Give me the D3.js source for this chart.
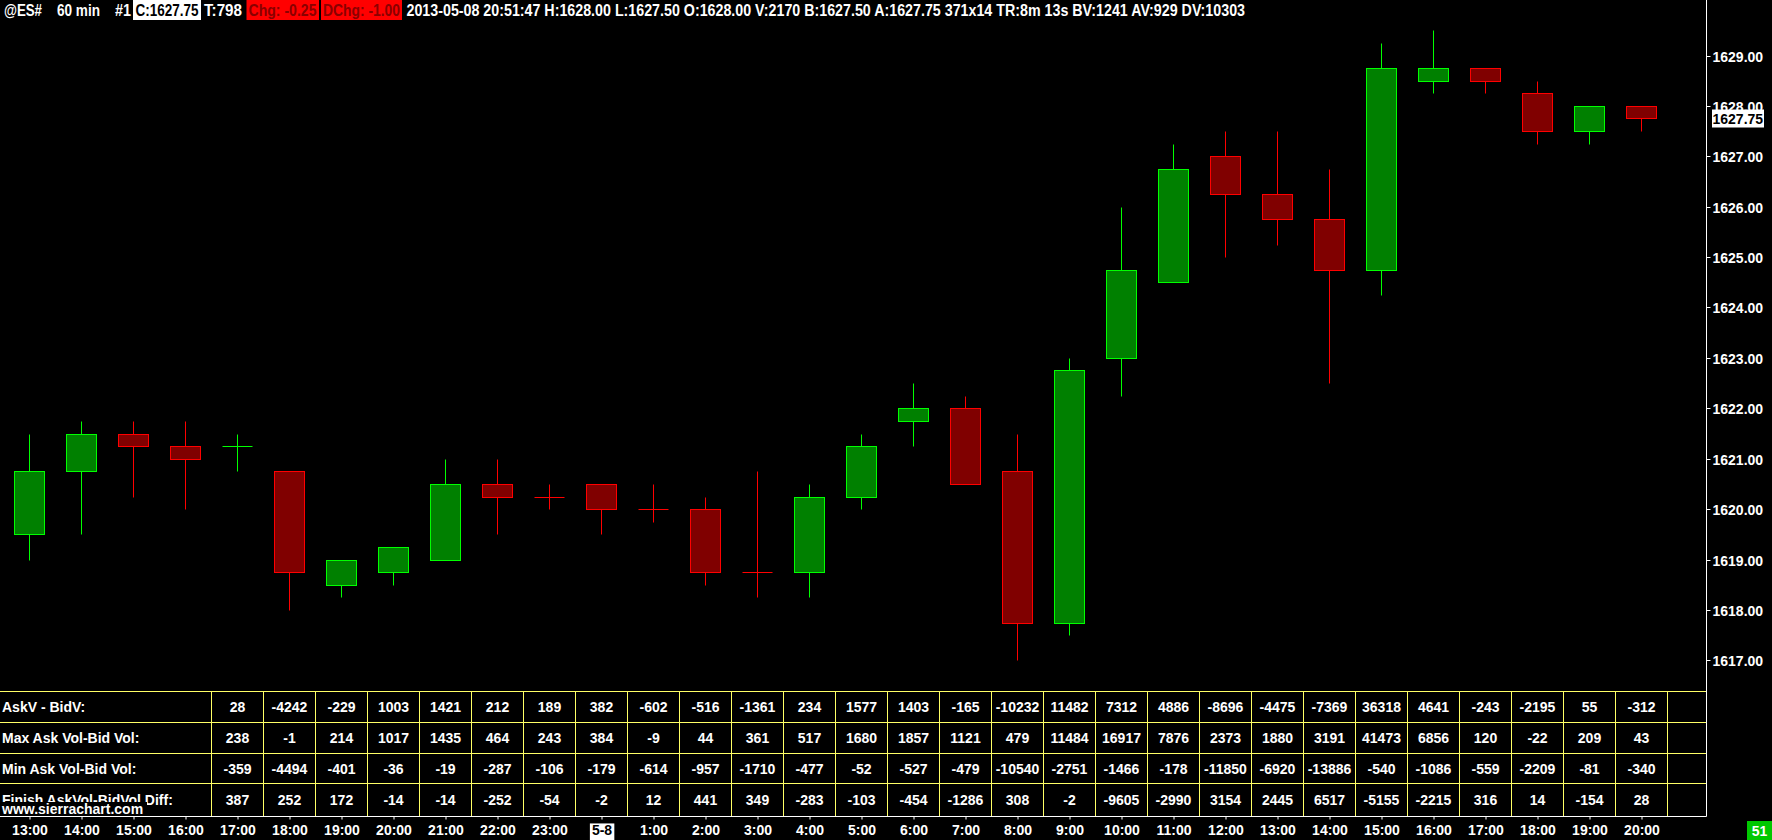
<!DOCTYPE html>
<html><head><meta charset="utf-8">
<script src="https://cdn.jsdelivr.net/npm/d3@7"></script>
<style>
html,body{margin:0;padding:0;background:#000;overflow:hidden}
svg{display:block}
text{font-family:"Liberation Sans",Arial,sans-serif;font-weight:bold}
</style></head><body>
<svg id="c" width="1772" height="840"></svg>
<script>
// ---------- data ----------
const times = ["13:00","14:00","15:00","16:00","17:00","18:00","19:00","20:00","21:00","22:00","23:00","5-8",
  "1:00","2:00","3:00","4:00","5:00","6:00","7:00","8:00","9:00","10:00","11:00","12:00","13:00","14:00",
  "15:00","16:00","17:00","18:00","19:00","20:00"];
const opens  = [1619.5,1620.75,1621.5,1621.25,1621.25,1620.75,1618.5,1618.75,1619,1620.5,1620.25,1620.5,
  1620,1620,1618.75,1618.75,1620.25,1621.75,1622,1620.75,1617.75,1623,1624.5,1627,1626.25,1625.75,
  1624.75,1628.5,1628.75,1628.25,1627.5,1628];
const highs  = [1621.5,1621.75,1621.75,1621.75,1621.5,1620.75,1619,1619.25,1621,1621,1620.5,1620.5,
  1620.5,1620.25,1620.75,1620.5,1621.5,1622.5,1622.25,1621.5,1623,1626,1627.25,1627.5,1627.5,1626.75,
  1629.25,1629.5,1628.75,1628.5,1628,1628];
const lows   = [1619,1619.5,1620.25,1620,1620.75,1618,1618.25,1618.5,1619,1619.5,1620,1619.5,
  1619.75,1618.5,1618.25,1618.25,1620,1621.25,1620.5,1617,1617.5,1622.25,1624.5,1625,1625.25,1622.5,
  1624.25,1628.25,1628.25,1627.25,1627.25,1627.5];
const closes = [1620.75,1621.5,1621.25,1621,1621.25,1618.75,1619,1619.25,1620.5,1620.25,1620.25,1620,
  1620,1618.75,1618.75,1620.25,1621.25,1622,1620.5,1617.75,1622.75,1624.75,1626.75,1626.25,1625.75,1624.75,
  1628.75,1628.75,1628.5,1627.5,1628,1627.75];
const priceTicks = [1617,1618,1619,1620,1621,1622,1623,1624,1625,1626,1627,1628,1629];
const lastPrice = 1627.75;
const tableLabels = ["AskV - BidV:","Max Ask Vol-Bid Vol:","Min Ask Vol-Bid Vol:","Finish AskVol-BidVol Diff:"];
const tableFirstBar = 4;
const askMinusBid = [28,-4242,-229,1003,1421,212,189,382,-602,-516,-1361,234,1577,1403,-165,-10232,11482,7312,4886,-8696,-4475,-7369,36318,4641,-243,-2195,55,-312];
const maxAskBid   = [238,-1,214,1017,1435,464,243,384,-9,44,361,517,1680,1857,1121,479,11484,16917,7876,2373,1880,3191,41473,6856,120,-22,209,43];
const minAskBid   = [-359,-4494,-401,-36,-19,-287,-106,-179,-614,-957,-1710,-477,-52,-527,-479,-10540,-2751,-1466,-178,-11850,-6920,-13886,-540,-1086,-559,-2209,-81,-340];
const finishDiff  = [387,252,172,-14,-14,-252,-54,-2,12,441,349,-283,-103,-454,-1286,308,-2,-9605,-2990,3154,2445,6517,-5155,-2215,316,14,-154,28];
const headerParts = ["@ES#","60 min","#1","C:1627.75","T:798","Chg: -0.25","DChg: -1.00",
  "2013-05-08 20:51:47 H:1628.00 L:1627.50 O:1628.00 V:2170 B:1627.50 A:1627.75 371x14 TR:8m 13s BV:1241 AV:929 DV:10303"];
const barCountLabel = "51";

// ---------- layout ----------
const svg = d3.select("#c");
const W = 1772, H = 840;
const plotRight = 1706.5, axisBottom = 816.5;
const UP_FILL = "#008000", UP_LINE = "#00ff00", DN_FILL = "#800000", DN_LINE = "#ff0000";
const GRID = "#ffff66";

svg.append("rect").attr("width", W).attr("height", H).attr("fill", "#000");

const x = d3.scaleLinear().domain([0, times.length - 1]).range([29.5, 29.5 + 52 * (times.length - 1)]);
const y = d3.scaleLinear().domain([1617, 1629]).range([660.3, 55.5]);
const py = v => Math.round(y(v)) + 0.5;

// ---------- candles ----------
const bars = d3.range(times.length).map(i => {
  const o = opens[i], c = closes[i];
  let up = c > o ? true : c < o ? false : (i > 0 && c > closes[i - 1]);
  return {i, o, h: highs[i], l: lows[i], c, up};
});
const g = svg.append("g");
const cg = g.selectAll("g.candle").data(bars).join("g").attr("class", "candle");
cg.append("line")
  .attr("x1", d => x(d.i)).attr("x2", d => x(d.i))
  .attr("y1", d => py(d.h)).attr("y2", d => py(d.l))
  .attr("stroke", d => d.up ? UP_LINE : DN_LINE).attr("stroke-width", 1);
cg.filter(d => d.o !== d.c).append("rect")
  .attr("x", d => x(d.i) - 15).attr("width", 30)
  .attr("y", d => py(Math.max(d.o, d.c)))
  .attr("height", d => py(Math.min(d.o, d.c)) - py(Math.max(d.o, d.c)))
  .attr("fill", d => d.up ? UP_FILL : DN_FILL)
  .attr("stroke", d => d.up ? UP_LINE : DN_LINE).attr("stroke-width", 1);
cg.filter(d => d.o === d.c).append("line")
  .attr("x1", d => x(d.i) - 15).attr("x2", d => x(d.i) + 15)
  .attr("y1", d => py(d.c)).attr("y2", d => py(d.c))
  .attr("stroke", d => d.up ? UP_LINE : DN_LINE).attr("stroke-width", 1);

// ---------- table ----------
const rows = [askMinusBid, maxAskBid, minAskBid, finishDiff];
const rowScale = d3.scaleBand().domain(d3.range(rows.length)).range([691.5, 814.5]);
const rowLine = k => Math.round(rowScale(k) - 0.5) + 0.5;
const tg = svg.append("g");
rows.forEach((r, k) => {
  tg.append("line").attr("x1", 0).attr("x2", plotRight).attr("y1", rowLine(k)).attr("y2", rowLine(k))
    .attr("stroke", GRID);
});
const colEdges = d3.range(tableFirstBar, times.length).map(i => x(i) - 26).concat([x(times.length - 1) + 26]);
tg.selectAll("line.v").data(colEdges).join("line").attr("class", "v")
  .attr("x1", d => d).attr("x2", d => d).attr("y1", rowLine(0)).attr("y2", axisBottom)
  .attr("stroke", GRID);
rows.forEach((r, k) => {
  const top = rowLine(k), bot = k < rows.length - 1 ? rowLine(k + 1) : axisBottom;
  const cy = (top + bot) / 2;
  tg.append("text").attr("x", 2).attr("y", cy).attr("dy", "0.36em")
    .attr("fill", "#fff").attr("font-size", 14).text(tableLabels[k]);
  tg.selectAll("text.v" + k).data(r).join("text").attr("class", "v" + k)
    .attr("x", (d, j) => x(tableFirstBar + j)).attr("y", cy).attr("dy", "0.36em")
    .attr("text-anchor", "middle").attr("fill", "#fff").attr("font-size", 14).text(d => d);
});
// watermark
svg.append("rect").attr("x", 0).attr("y", 802).attr("width", 147).attr("height", 14).attr("fill", "#000");
svg.append("text").attr("x", 2).attr("y", 814).attr("fill", "#fff").attr("font-size", 14).text("www.sierrachart.com");

// ---------- borders ----------
svg.append("line").attr("x1", plotRight).attr("x2", plotRight).attr("y1", 0).attr("y2", axisBottom).attr("stroke", "#fff");
svg.append("line").attr("x1", 0).attr("x2", plotRight).attr("y1", axisBottom).attr("y2", axisBottom).attr("stroke", "#fff");

// ---------- y axis ----------
const ya = svg.append("g").attr("transform", `translate(${plotRight},0)`)
  .call(d3.axisRight(y).tickValues(priceTicks).tickFormat(d3.format(".2f")).tickSize(4).tickPadding(2));
ya.select(".domain").remove();
ya.selectAll(".tick line").attr("stroke", "#fff");
ya.selectAll(".tick text").attr("fill", "#fff").attr("font-size", 14)
  .attr("font-family", null).attr("dy", "0.36em");
ya.selectAll(".tick").attr("transform", d => `translate(0,${py(d)})`);
// last price box
const lp = svg.append("g").attr("transform", `translate(1712,${y(lastPrice)})`);
lp.append("rect").attr("x", 0).attr("y", -9).attr("width", 52).attr("height", 18).attr("fill", "#fff");
lp.append("text").attr("x", 0.5).attr("y", 0).attr("dy", "0.36em").attr("fill", "#000").attr("font-size", 14)
  .text(d3.format(".2f")(lastPrice));

// ---------- x axis ----------
const xa = svg.append("g").attr("transform", `translate(0,${axisBottom})`)
  .call(d3.axisBottom(x).tickValues(d3.range(times.length)).tickFormat(i => times[i]).tickSize(3).tickPadding(6));
xa.select(".domain").remove();
xa.selectAll(".tick line").attr("stroke", "#fff");
xa.selectAll(".tick text").attr("fill", "#fff").attr("font-size", 14).attr("font-family", null);
xa.selectAll(".tick").filter(i => times[i].includes("-")).each(function () {
  const t = d3.select(this).select("text").attr("fill", "#000");
  const bb = t.node().getBBox();
  d3.select(this).insert("rect", "text").attr("x", bb.x - 2).attr("y", bb.y + 1)
    .attr("width", bb.width + 4).attr("height", 840 - axisBottom - bb.y - 1).attr("fill", "#fff");
});

// ---------- bar count ----------
svg.append("rect").attr("x", 1747).attr("y", 821).attr("width", 25).attr("height", 19).attr("fill", "#00c800");
svg.append("text").attr("x", 1759.5).attr("y", 836).attr("text-anchor", "middle").attr("fill", "#fff")
  .attr("font-size", 14).text(barCountLabel);

// ---------- header ----------
const hx = [[4,38],[57,43],[115,16],[135.5,63],[204,38],[248.5,68],[323,77],[406.5,838.5]];
const boxes = {3: [133, 68, "#fff", "#000"], 5: [246.5, 72.5, "#ff0000", "#8a0000"], 6: [321, 81, "#ff0000", "#8a0000"]};
const hg = svg.append("g");
headerParts.forEach((s, k) => {
  let fill = "#fff";
  if (boxes[k]) {
    const b = boxes[k];
    hg.append("rect").attr("x", b[0]).attr("y", 0).attr("width", b[1]).attr("height", 20).attr("fill", b[2]);
    fill = b[3];
  }
  hg.append("text").attr("x", hx[k][0]).attr("y", 16).attr("fill", fill)
    .style("font-family", '"Liberation Sans Narrow","Arial Narrow","Liberation Sans",sans-serif')
    .attr("font-size", 16).attr("textLength", hx[k][1]).attr("lengthAdjust", "spacingAndGlyphs").text(s);
});
</script>
</body></html>
